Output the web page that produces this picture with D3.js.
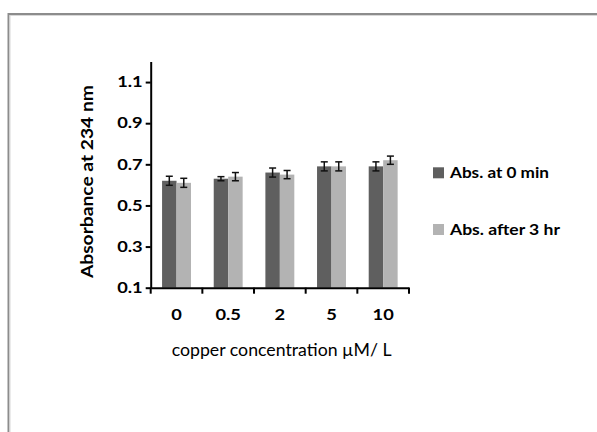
<!DOCTYPE html>
<html><head><meta charset="utf-8">
<script src="https://cdn.jsdelivr.net/npm/d3@7/dist/d3.min.js"></script>
<style>html,body{margin:0;padding:0;background:#fff;}svg{display:block;}</style>
</head><body>
<svg id="c" width="597" height="432"></svg>
<script>
const categories = ["0", "0.5", "2", "5", "10"];
const seriesNames = ["Abs. at 0 min", "Abs. after 3 hr"];
const abs0 = [0.62, 0.63, 0.66, 0.69, 0.69];
const abs3 = [0.61, 0.64, 0.65, 0.69, 0.72];
const err0 = [0.022, 0.01, 0.022, 0.022, 0.022];
const err3 = [0.022, 0.02, 0.02, 0.022, 0.02];
const yTicks = [0.1, 0.3, 0.5, 0.7, 0.9, 1.1];
const colors = ["#5f5f5f", "#b3b3b3"];

const svg = d3.select("#c");
const font = "Lato, 'Open Sans', sans-serif";
const sx = 1.22; // horizontal stretch of the reference text

// frame
svg.append("path").attr("d", "M8.5,432 V14 H597").attr("fill", "none").attr("stroke", "#8c8c8c").attr("stroke-width", 2);
svg.append("path").attr("d", "M10,432 V15.5 H597").attr("fill", "none").attr("stroke", "#d8d8d8").attr("stroke-width", 1);

const x0 = 150.7, x1 = 409, yTop = 61.5, yBot = 287.7;
const x = d3.scaleBand().domain(categories).range([x0, x1]).paddingInner(0).paddingOuter(0);
const y = d3.scaleLinear().domain([0.1, 1.2]).range([yBot, yTop]);
const groupW = x.bandwidth() * 0.56;
const xs = d3.scaleBand().domain([0, 1]).range([0, groupW]);

const data = categories.map((c, i) => ({c, vals: [
  {s: 0, v: abs0[i], e: err0[i]}, {s: 1, v: abs3[i], e: err3[i]}]}));

const g = svg.append("g");
const grp = g.selectAll("g.grp").data(data).join("g")
  .attr("transform", d => `translate(${x(d.c) + (x.bandwidth() - groupW) / 2},0)`);
grp.selectAll("rect").data(d => d.vals).join("rect")
  .attr("x", d => xs(d.s)).attr("width", xs.bandwidth())
  .attr("y", d => y(d.v)).attr("height", d => y(0.1) - y(d.v))
  .attr("fill", d => colors[d.s]);
const eb = grp.selectAll("g.eb").data(d => d.vals).join("g")
  .attr("transform", d => `translate(${xs(d.s) + xs.bandwidth() / 2},0)`)
  .attr("stroke", "#111").attr("stroke-width", 1.5);
eb.append("line").attr("x1", 0).attr("x2", 0).attr("y1", d => y(d.v + d.e)).attr("y2", d => y(d.v - d.e));
eb.append("line").attr("x1", -3.5).attr("x2", 3.5).attr("y1", d => y(d.v + d.e)).attr("y2", d => y(d.v + d.e));
eb.append("line").attr("x1", -3.5).attr("x2", 3.5).attr("y1", d => y(d.v - d.e)).attr("y2", d => y(d.v - d.e));

// y axis
const yAxis = svg.append("g").attr("transform", `translate(${x0},0)`)
  .call(d3.axisLeft(y).tickValues(yTicks).tickFormat(d3.format(".1f")).tickSize(5).tickSizeOuter(0).tickPadding(3));
yAxis.select(".domain").attr("stroke", "#000").attr("stroke-width", 2);
yAxis.selectAll(".tick line").attr("stroke", "#000").attr("stroke-width", 2);
yAxis.selectAll("text").attr("font-family", font).attr("font-weight", "bold").attr("font-size", 15).attr("fill", "#000")
  .attr("x", -8 / sx).attr("transform", `scale(${sx},1)`);

// x axis
const xAxis = svg.append("g").attr("transform", `translate(0,${yBot})`)
  .call(d3.axisBottom(x).tickSize(0).tickPadding(0));
xAxis.select(".domain").attr("stroke", "#000").attr("stroke-width", 2);
xAxis.selectAll(".tick").each(function () {
  const t = d3.select(this);
  const tx = +t.attr("transform").match(/translate\(([-\d.]+)/)[1];
  t.attr("transform", `translate(${tx},0) scale(${sx},1)`);
});
xAxis.selectAll("text").attr("font-family", font).attr("font-weight", "bold").attr("font-size", 15).attr("fill", "#000")
  .attr("dy", null).attr("y", 32);
const bounds = categories.map(c => x(c)).concat([x1]);
svg.append("g").selectAll("line").data(bounds).join("line")
  .attr("x1", d => d).attr("x2", d => d).attr("y1", yBot).attr("y2", yBot + 6)
  .attr("stroke", "#000").attr("stroke-width", 2);

// titles
svg.append("text").attr("transform", `translate(93,${(yTop + yBot) / 2 + 7}) rotate(-90)`)
  .attr("text-anchor", "middle").attr("font-family", font).attr("font-weight", "bold").attr("font-size", 17)
  .attr("textLength", 193).attr("lengthAdjust", "spacingAndGlyphs")
  .text("Absorbance at 234 nm");
svg.append("text").attr("x", 171.7).attr("y", 356)
  .attr("font-family", font).attr("font-size", 17.5)
  .attr("textLength", 220).attr("lengthAdjust", "spacingAndGlyphs")
  .text("copper concentration \u00b5M/ L");

// legend
const legW = [99, 110];
const leg = svg.append("g").selectAll("g").data(seriesNames).join("g")
  .attr("transform", (d, i) => `translate(433,${167.3 + i * 56.7})`);
leg.append("rect").attr("width", 11).attr("height", 11).attr("fill", (d, i) => colors[i]);
leg.append("text").attr("x", 17).attr("y", 11).attr("font-family", font).attr("font-weight", "bold").attr("font-size", 15.3)
  .attr("textLength", (d, i) => legW[i]).attr("lengthAdjust", "spacingAndGlyphs")
  .text(d => d);
</script>
</body></html>
